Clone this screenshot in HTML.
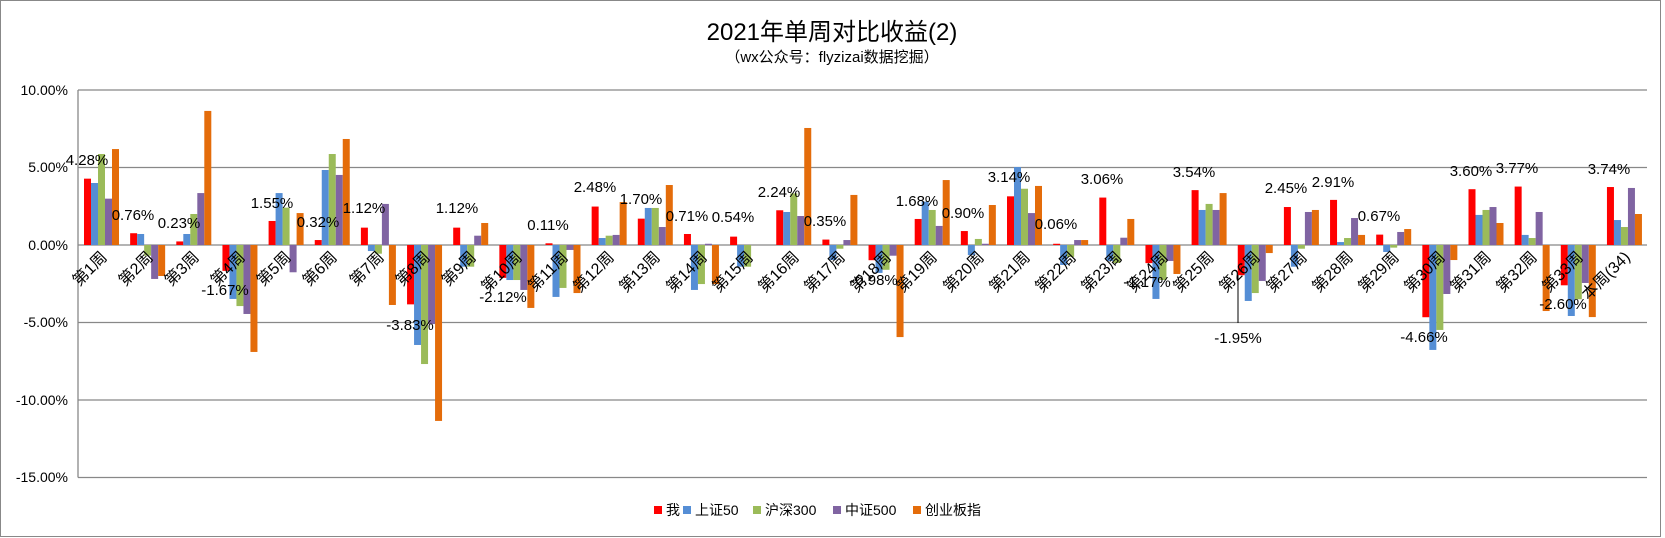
<!DOCTYPE html>
<html><head><meta charset="utf-8"><style>
html,body{margin:0;padding:0;background:#fff;}
svg{display:block;font-family:"Liberation Sans","Noto Sans CJK SC",sans-serif;}
.a{fill:#FF0000}.b{fill:#558ED5}.c{fill:#9BBB59}.d{fill:#8064A2}.e{fill:#E46C0A}
</style></head><body>
<svg width="1665" height="538" xmlns="http://www.w3.org/2000/svg">
<rect x="0.5" y="0.5" width="1660" height="536" fill="#fff" stroke="#888" stroke-width="1"/>
<text x="832" y="40" font-size="24" text-anchor="middle" fill="#000">2021年单周对比收益(2)</text>
<text x="832" y="62" font-size="15" text-anchor="middle" fill="#000">（wx公众号：flyzizai数据挖掘）</text>
<g stroke="#888" stroke-width="1.3">
<line x1="78" y1="90" x2="1647" y2="90"/>
<line x1="78" y1="167.5" x2="1647" y2="167.5"/>
<line x1="78" y1="245" x2="1647" y2="245"/>
<line x1="78" y1="322.5" x2="1647" y2="322.5"/>
<line x1="78" y1="400" x2="1647" y2="400"/>
<line x1="78" y1="477.5" x2="1647" y2="477.5"/>
<line x1="78" y1="90" x2="78" y2="477.5"/>
</g>
<g font-size="14" text-anchor="end" fill="#000">
<text x="68" y="95">10.00%</text>
<text x="68" y="172">5.00%</text>
<text x="68" y="250">0.00%</text>
<text x="68" y="327">-5.00%</text>
<text x="68" y="405">-10.00%</text>
<text x="68" y="482">-15.00%</text>
</g>
<g>
<g transform="translate(84,245) scale(1,-15.5)"><rect class="a" x="0" y="0" width="7" height="4.28"/><rect class="b" x="7" y="0" width="7" height="4.0"/><rect class="c" x="14" y="0" width="7" height="5.87"/><rect class="d" x="21" y="0" width="7" height="2.99"/><rect class="e" x="28" y="0" width="7" height="6.19"/></g>
<g transform="translate(130.15,245) scale(1,-15.5)"><rect class="a" x="0" y="0" width="7" height="0.76"/><rect class="b" x="7" y="0" width="7" height="0.71"/><rect class="c" x="14" y="-0.69" width="7" height="0.69"/><rect class="d" x="21" y="-2.19" width="7" height="2.19"/><rect class="e" x="28" y="-2.0" width="7" height="2.0"/></g>
<g transform="translate(176.3,245) scale(1,-15.5)"><rect class="a" x="0" y="0" width="7" height="0.23"/><rect class="b" x="7" y="0" width="7" height="0.71"/><rect class="c" x="14" y="0" width="7" height="2.0"/><rect class="d" x="21" y="0" width="7" height="3.35"/><rect class="e" x="28" y="0" width="7" height="8.65"/></g>
<g transform="translate(222.45,245) scale(1,-15.5)"><rect class="a" x="0" y="-1.67" width="7" height="1.67"/><rect class="b" x="7" y="-3.48" width="7" height="3.48"/><rect class="c" x="14" y="-3.94" width="7" height="3.94"/><rect class="d" x="21" y="-4.45" width="7" height="4.45"/><rect class="e" x="28" y="-6.9" width="7" height="6.9"/></g>
<g transform="translate(268.6,245) scale(1,-15.5)"><rect class="a" x="0" y="0" width="7" height="1.55"/><rect class="b" x="7" y="0" width="7" height="3.35"/><rect class="c" x="14" y="0" width="7" height="2.41"/><rect class="d" x="21" y="-1.76" width="7" height="1.76"/><rect class="e" x="28" y="0" width="7" height="2.06"/></g>
<g transform="translate(314.75,245) scale(1,-15.5)"><rect class="a" x="0" y="0" width="7" height="0.32"/><rect class="b" x="7" y="0" width="7" height="4.84"/><rect class="c" x="14" y="0" width="7" height="5.87"/><rect class="d" x="21" y="0" width="7" height="4.52"/><rect class="e" x="28" y="0" width="7" height="6.84"/></g>
<g transform="translate(360.9,245) scale(1,-15.5)"><rect class="a" x="0" y="0" width="7" height="1.12"/><rect class="b" x="7" y="-0.39" width="7" height="0.39"/><rect class="c" x="14" y="-0.56" width="7" height="0.56"/><rect class="d" x="21" y="0" width="7" height="2.65"/><rect class="e" x="28" y="-3.87" width="7" height="3.87"/></g>
<g transform="translate(407.05,245) scale(1,-15.5)"><rect class="a" x="0" y="-3.83" width="7" height="3.83"/><rect class="b" x="7" y="-6.45" width="7" height="6.45"/><rect class="c" x="14" y="-7.68" width="7" height="7.68"/><rect class="d" x="21" y="-5.1" width="7" height="5.1"/><rect class="e" x="28" y="-11.35" width="7" height="11.35"/></g>
<g transform="translate(453.2,245) scale(1,-15.5)"><rect class="a" x="0" y="0" width="7" height="1.12"/><rect class="b" x="7" y="-1.4" width="7" height="1.4"/><rect class="c" x="14" y="-1.4" width="7" height="1.4"/><rect class="d" x="21" y="0" width="7" height="0.6"/><rect class="e" x="28" y="0" width="7" height="1.42"/></g>
<g transform="translate(499.35,245) scale(1,-15.5)"><rect class="a" x="0" y="-2.12" width="7" height="2.12"/><rect class="b" x="7" y="-2.26" width="7" height="2.26"/><rect class="c" x="14" y="-2.26" width="7" height="2.26"/><rect class="d" x="21" y="-2.9" width="7" height="2.9"/><rect class="e" x="28" y="-4.06" width="7" height="4.06"/></g>
<g transform="translate(545.5,245) scale(1,-15.5)"><rect class="a" x="0" y="0" width="7" height="0.11"/><rect class="b" x="7" y="-3.35" width="7" height="3.35"/><rect class="c" x="14" y="-2.77" width="7" height="2.77"/><rect class="d" x="21" y="-0.32" width="7" height="0.32"/><rect class="e" x="28" y="-3.1" width="7" height="3.1"/></g>
<g transform="translate(591.65,245) scale(1,-15.5)"><rect class="a" x="0" y="0" width="7" height="2.48"/><rect class="b" x="7" y="0" width="7" height="0.45"/><rect class="c" x="14" y="0" width="7" height="0.6"/><rect class="d" x="21" y="0" width="7" height="0.65"/><rect class="e" x="28" y="0" width="7" height="2.77"/></g>
<g transform="translate(637.8,245) scale(1,-15.5)"><rect class="a" x="0" y="0" width="7" height="1.70"/><rect class="b" x="7" y="0" width="7" height="2.39"/><rect class="c" x="14" y="0" width="7" height="2.39"/><rect class="d" x="21" y="0" width="7" height="1.16"/><rect class="e" x="28" y="0" width="7" height="3.87"/></g>
<g transform="translate(683.95,245) scale(1,-15.5)"><rect class="a" x="0" y="0" width="7" height="0.71"/><rect class="b" x="7" y="-2.9" width="7" height="2.9"/><rect class="c" x="14" y="-2.52" width="7" height="2.52"/><rect class="d" x="21" y="0" width="7" height="0.08"/><rect class="e" x="28" y="-2.52" width="7" height="2.52"/></g>
<g transform="translate(730.1,245) scale(1,-15.5)"><rect class="a" x="0" y="0" width="7" height="0.54"/><rect class="b" x="7" y="-1.4" width="7" height="1.4"/><rect class="c" x="14" y="-1.4" width="7" height="1.4"/></g>
<g transform="translate(776.25,245) scale(1,-15.5)"><rect class="a" x="0" y="0" width="7" height="2.24"/><rect class="b" x="7" y="0" width="7" height="2.13"/><rect class="c" x="14" y="0" width="7" height="3.33"/><rect class="d" x="21" y="0" width="7" height="1.87"/><rect class="e" x="28" y="0" width="7" height="7.55"/></g>
<g transform="translate(822.4,245) scale(1,-15.5)"><rect class="a" x="0" y="0" width="7" height="0.35"/><rect class="b" x="7" y="-0.97" width="7" height="0.97"/><rect class="c" x="14" y="-0.24" width="7" height="0.24"/><rect class="d" x="21" y="0" width="7" height="0.32"/><rect class="e" x="28" y="0" width="7" height="3.23"/></g>
<g transform="translate(868.55,245) scale(1,-15.5)"><rect class="a" x="0" y="-0.98" width="7" height="0.98"/><rect class="b" x="7" y="-1.8" width="7" height="1.8"/><rect class="c" x="14" y="-1.6" width="7" height="1.6"/><rect class="d" x="21" y="-0.69" width="7" height="0.69"/><rect class="e" x="28" y="-5.94" width="7" height="5.94"/></g>
<g transform="translate(914.7,245) scale(1,-15.5)"><rect class="a" x="0" y="0" width="7" height="1.68"/><rect class="b" x="7" y="0" width="7" height="2.8"/><rect class="c" x="14" y="0" width="7" height="2.26"/><rect class="d" x="21" y="0" width="7" height="1.23"/><rect class="e" x="28" y="0" width="7" height="4.19"/></g>
<g transform="translate(960.85,245) scale(1,-15.5)"><rect class="a" x="0" y="0" width="7" height="0.90"/><rect class="b" x="7" y="-0.65" width="7" height="0.65"/><rect class="c" x="14" y="0" width="7" height="0.39"/><rect class="d" x="21" y="0" width="7" height="0.08"/><rect class="e" x="28" y="0" width="7" height="2.58"/></g>
<g transform="translate(1007,245) scale(1,-15.5)"><rect class="a" x="0" y="0" width="7" height="3.14"/><rect class="b" x="7" y="0" width="7" height="5.03"/><rect class="c" x="14" y="0" width="7" height="3.63"/><rect class="d" x="21" y="0" width="7" height="2.06"/><rect class="e" x="28" y="0" width="7" height="3.81"/></g>
<g transform="translate(1053.15,245) scale(1,-15.5)"><rect class="a" x="0" y="0" width="7" height="0.08"/><rect class="b" x="7" y="-1.29" width="7" height="1.29"/><rect class="c" x="14" y="-0.77" width="7" height="0.77"/><rect class="d" x="21" y="0" width="7" height="0.32"/><rect class="e" x="28" y="0" width="7" height="0.32"/></g>
<g transform="translate(1099.3,245) scale(1,-15.5)"><rect class="a" x="0" y="0" width="7" height="3.06"/><rect class="b" x="7" y="-1.03" width="7" height="1.03"/><rect class="c" x="14" y="-1.16" width="7" height="1.16"/><rect class="d" x="21" y="0" width="7" height="0.47"/><rect class="e" x="28" y="0" width="7" height="1.68"/></g>
<g transform="translate(1145.45,245) scale(1,-15.5)"><rect class="a" x="0" y="-1.17" width="7" height="1.17"/><rect class="b" x="7" y="-3.48" width="7" height="3.48"/><rect class="c" x="14" y="-2.26" width="7" height="2.26"/><rect class="d" x="21" y="-1.03" width="7" height="1.03"/><rect class="e" x="28" y="-1.87" width="7" height="1.87"/></g>
<g transform="translate(1191.6,245) scale(1,-15.5)"><rect class="a" x="0" y="0" width="7" height="3.54"/><rect class="b" x="7" y="0" width="7" height="2.26"/><rect class="c" x="14" y="0" width="7" height="2.65"/><rect class="d" x="21" y="0" width="7" height="2.26"/><rect class="e" x="28" y="0" width="7" height="3.35"/></g>
<g transform="translate(1237.75,245) scale(1,-15.5)"><rect class="a" x="0" y="-1.95" width="7" height="1.95"/><rect class="b" x="7" y="-3.61" width="7" height="3.61"/><rect class="c" x="14" y="-3.1" width="7" height="3.1"/><rect class="d" x="21" y="-2.32" width="7" height="2.32"/><rect class="e" x="28" y="-0.52" width="7" height="0.52"/></g>
<g transform="translate(1283.9,245) scale(1,-15.5)"><rect class="a" x="0" y="0" width="7" height="2.45"/><rect class="b" x="7" y="-1.4" width="7" height="1.4"/><rect class="c" x="14" y="-0.24" width="7" height="0.24"/><rect class="d" x="21" y="0" width="7" height="2.13"/><rect class="e" x="28" y="0" width="7" height="2.26"/></g>
<g transform="translate(1330.05,245) scale(1,-15.5)"><rect class="a" x="0" y="0" width="7" height="2.91"/><rect class="b" x="7" y="0" width="7" height="0.19"/><rect class="c" x="14" y="0" width="7" height="0.45"/><rect class="d" x="21" y="0" width="7" height="1.74"/><rect class="e" x="28" y="0" width="7" height="0.65"/></g>
<g transform="translate(1376.2,245) scale(1,-15.5)"><rect class="a" x="0" y="0" width="7" height="0.67"/><rect class="b" x="7" y="-0.45" width="7" height="0.45"/><rect class="c" x="14" y="-0.17" width="7" height="0.17"/><rect class="d" x="21" y="0" width="7" height="0.84"/><rect class="e" x="28" y="0" width="7" height="1.03"/></g>
<g transform="translate(1422.35,245) scale(1,-15.5)"><rect class="a" x="0" y="-4.66" width="7" height="4.66"/><rect class="b" x="7" y="-6.77" width="7" height="6.77"/><rect class="c" x="14" y="-5.48" width="7" height="5.48"/><rect class="d" x="21" y="-3.16" width="7" height="3.16"/><rect class="e" x="28" y="-0.97" width="7" height="0.97"/></g>
<g transform="translate(1468.5,245) scale(1,-15.5)"><rect class="a" x="0" y="0" width="7" height="3.60"/><rect class="b" x="7" y="0" width="7" height="1.94"/><rect class="c" x="14" y="0" width="7" height="2.26"/><rect class="d" x="21" y="0" width="7" height="2.45"/><rect class="e" x="28" y="0" width="7" height="1.42"/></g>
<g transform="translate(1514.65,245) scale(1,-15.5)"><rect class="a" x="0" y="0" width="7" height="3.77"/><rect class="b" x="7" y="0" width="7" height="0.65"/><rect class="c" x="14" y="0" width="7" height="0.45"/><rect class="d" x="21" y="0" width="7" height="2.13"/><rect class="e" x="28" y="-4.26" width="7" height="4.26"/></g>
<g transform="translate(1560.8,245) scale(1,-15.5)"><rect class="a" x="0" y="-2.60" width="7" height="2.60"/><rect class="b" x="7" y="-4.58" width="7" height="4.58"/><rect class="c" x="14" y="-3.5" width="7" height="3.5"/><rect class="d" x="21" y="-2.45" width="7" height="2.45"/><rect class="e" x="28" y="-4.65" width="7" height="4.65"/></g>
<g transform="translate(1606.95,245) scale(1,-15.5)"><rect class="a" x="0" y="0" width="7" height="3.74"/><rect class="b" x="7" y="0" width="7" height="1.61"/><rect class="c" x="14" y="0" width="7" height="1.16"/><rect class="d" x="21" y="0" width="7" height="3.68"/><rect class="e" x="28" y="0" width="7" height="2.0"/></g>
</g>
<g font-size="16" text-anchor="end" fill="#000">
<text transform="translate(108,258) rotate(-45)">第1周</text>
<text transform="translate(154,258) rotate(-45)">第2周</text>
<text transform="translate(200,258) rotate(-45)">第3周</text>
<text transform="translate(246,258) rotate(-45)">第4周</text>
<text transform="translate(292,258) rotate(-45)">第5周</text>
<text transform="translate(338,258) rotate(-45)">第6周</text>
<text transform="translate(385,258) rotate(-45)">第7周</text>
<text transform="translate(431,258) rotate(-45)">第8周</text>
<text transform="translate(477,258) rotate(-45)">第9周</text>
<text transform="translate(523,258) rotate(-45)">第10周</text>
<text transform="translate(569,258) rotate(-45)">第11周</text>
<text transform="translate(615,258) rotate(-45)">第12周</text>
<text transform="translate(661,258) rotate(-45)">第13周</text>
<text transform="translate(708,258) rotate(-45)">第14周</text>
<text transform="translate(754,258) rotate(-45)">第15周</text>
<text transform="translate(800,258) rotate(-45)">第16周</text>
<text transform="translate(846,258) rotate(-45)">第17周</text>
<text transform="translate(892,258) rotate(-45)">第18周</text>
<text transform="translate(938,258) rotate(-45)">第19周</text>
<text transform="translate(985,258) rotate(-45)">第20周</text>
<text transform="translate(1031,258) rotate(-45)">第21周</text>
<text transform="translate(1077,258) rotate(-45)">第22周</text>
<text transform="translate(1123,258) rotate(-45)">第23周</text>
<text transform="translate(1169,258) rotate(-45)">第24周</text>
<text transform="translate(1215,258) rotate(-45)">第25周</text>
<text transform="translate(1261,258) rotate(-45)">第26周</text>
<text transform="translate(1308,258) rotate(-45)">第27周</text>
<text transform="translate(1354,258) rotate(-45)">第28周</text>
<text transform="translate(1400,258) rotate(-45)">第29周</text>
<text transform="translate(1446,258) rotate(-45)">第30周</text>
<text transform="translate(1492,258) rotate(-45)">第31周</text>
<text transform="translate(1538,258) rotate(-45)">第32周</text>
<text transform="translate(1584,258) rotate(-45)">第33周</text>
<text transform="translate(1631,258) rotate(-45)">本周(34)</text>
</g>
<line x1="1238" y1="275" x2="1238" y2="323" stroke="#000" stroke-width="1"/>
<g font-size="15" text-anchor="middle" fill="#000">
<text x="87" y="165">4.28%</text>
<text x="133" y="220">0.76%</text>
<text x="179" y="228">0.23%</text>
<text x="225" y="295">-1.67%</text>
<text x="272" y="208">1.55%</text>
<text x="318" y="227">0.32%</text>
<text x="364" y="213">1.12%</text>
<text x="410" y="330">-3.83%</text>
<text x="457" y="213">1.12%</text>
<text x="503" y="302">-2.12%</text>
<text x="548" y="230">0.11%</text>
<text x="595" y="192">2.48%</text>
<text x="641" y="204">1.70%</text>
<text x="687" y="221">0.71%</text>
<text x="733" y="222">0.54%</text>
<text x="779" y="197">2.24%</text>
<text x="825" y="226">0.35%</text>
<text x="874" y="285">-0.98%</text>
<text x="917" y="206">1.68%</text>
<text x="963" y="218">0.90%</text>
<text x="1009" y="182">3.14%</text>
<text x="1056" y="229">0.06%</text>
<text x="1102" y="184">3.06%</text>
<text x="1147" y="287">-1.17%</text>
<text x="1194" y="177">3.54%</text>
<text x="1238" y="343">-1.95%</text>
<text x="1286" y="193">2.45%</text>
<text x="1333" y="187">2.91%</text>
<text x="1379" y="221">0.67%</text>
<text x="1424" y="342">-4.66%</text>
<text x="1471" y="176">3.60%</text>
<text x="1517" y="173">3.77%</text>
<text x="1563" y="309">-2.60%</text>
<text x="1609" y="174">3.74%</text>
</g>
<g font-size="14" fill="#000">
<rect x="654" y="506" width="8" height="8" fill="#FF0000"/><text x="666" y="515">我</text>
<rect x="683" y="506" width="8" height="8" fill="#558ED5"/><text x="695" y="515">上证50</text>
<rect x="753" y="506" width="8" height="8" fill="#9BBB59"/><text x="765" y="515">沪深300</text>
<rect x="833" y="506" width="8" height="8" fill="#8064A2"/><text x="845" y="515">中证500</text>
<rect x="913" y="506" width="8" height="8" fill="#E46C0A"/><text x="925" y="515">创业板指</text>
</g>
</svg>
</body></html>
